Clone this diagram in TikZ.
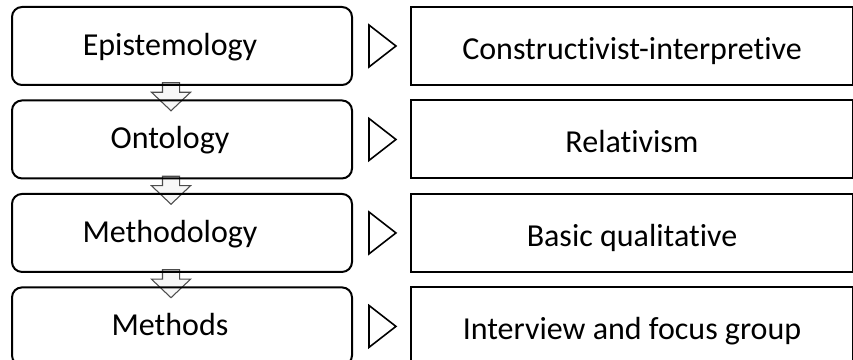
\documentclass[tikz,border=0pt]{standalone}
\usepackage{fontspec}
\setmainfont{Carlito}[Ligatures=NoCommon]
\usetikzlibrary{calc, shapes.geometric, shapes.arrows, positioning, backgrounds}

\begin{document}
\begin{tikzpicture}[
    x=0.75pt, y=-0.75pt,
    font=\fontsize{24}{28}\selectfont,
    node distance=10.1pt,
    % left column: research levels (text sits a bit left of centre)
    level_box/.style={rectangle, rounded corners=7.5pt, draw=black, line width=1.5pt, minimum width=255pt, minimum height=58.5pt, inner sep=0pt, text height=17.5pt, text depth=3.5pt, execute at begin node=\hspace*{-18pt}},
    % right column: chosen positions
    answer_box/.style={rectangle, draw=black, line width=1.5pt, minimum width=331.5pt, minimum height=58.5pt, inner sep=0pt, text height=20pt, text depth=0pt},
    pointer/.style={isosceles triangle, isosceles triangle stretches, draw=black, line width=1.2pt, minimum height=20.25pt, minimum width=31.5pt, inner sep=0pt},
    down_arrow/.style={single arrow, rotate=-90, draw=black!70, fill=black!3, line width=0.8pt, minimum height=21pt, minimum width=0pt, inner xsep=0pt, inner ysep=6pt, single arrow head extend=8.25pt, single arrow tip angle=93, single arrow head indent=0pt}
]
    \useasboundingbox (0,0) rectangle (853,360);

    % ===== Left column =====
    \node [level_box] (epist) at (182,46) {Epistemology};
    \node [level_box, below=of epist] (onto) {Ontology};
    \node [level_box, below=of onto] (methodo) {Methodology};
    \node [level_box, below=of methodo] (methods) {Methods};

    % ===== Right column =====
    \node [answer_box, right=42.75pt of epist] (constr) {Constructivist-interpretive};
    \node [answer_box, right=42.75pt of onto] (relat) {Relativism};
    \node [answer_box, right=42.75pt of methodo] (basic) {Basic qualitative};
    \node [answer_box, right=42.75pt of methods] (interv) {Interview and focus group};

    % ===== Pointers between the columns =====
    \node [pointer] (p1) at ($(epist.east)!0.46!(constr.west)$) {};
    \node [pointer] (p2) at ($(onto.east)!0.46!(relat.west)$) {};
    \node [pointer] (p3) at ($(methodo.east)!0.46!(basic.west)$) {};
    \node [pointer] (p4) at ($(methods.east)!0.46!(interv.west)$) {};

    % ===== Down arrows behind the boxes =====
    \begin{scope}[on background layer]
        \node [down_arrow] (d1) at ($(epist.south)!0.5!(onto.north)+(-11,0)$) {};
        \node [down_arrow] (d2) at ($(onto.south)!0.5!(methodo.north)+(-11,0)$) {};
        \node [down_arrow] (d3) at ($(methodo.south)!0.5!(methods.north)+(-11,0)$) {};
    \end{scope}
\end{tikzpicture}
\end{document}
